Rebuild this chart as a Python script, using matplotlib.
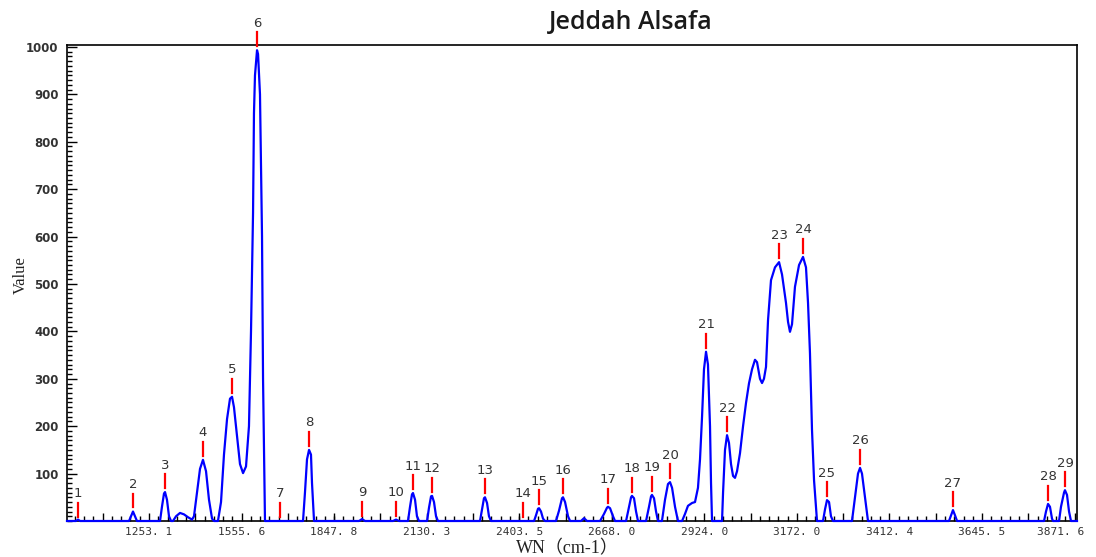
import numpy as np
import matplotlib.pyplot as plt
import matplotlib.transforms as mtransforms

LASER_NM = 532.0

# spectrum trace: scattered wavelength (nm) and intensity
wl_nm = [561.14,
         562.11, 562.33, 562.55,
         567.84, 568.06, 568.27, 568.49, 568.70,
         571.19, 571.40, 571.62, 571.73, 571.94, 572.16, 572.38,
         572.59, 572.92, 573.35, 573.78, 574.21, 574.65,
         574.86, 575.19, 575.51, 575.83, 576.16, 576.48, 576.81, 577.02,
         577.45, 577.78, 578.10, 578.43, 578.75, 578.97, 579.18, 579.51, 579.83,
         580.16, 580.48, 580.80, 581.02, 581.24, 581.34, 581.45, 581.67, 581.78,
         581.99, 582.21, 582.32, 582.53,
         586.64, 586.85, 587.07, 587.29, 587.50, 587.61, 587.83,
         592.69, 593.01, 593.34,
         596.36, 596.69, 597.01,
         597.98, 598.20, 598.41, 598.52, 598.74, 598.95, 599.17,
         600.04, 600.25, 600.47, 600.58, 600.79, 601.01, 601.22,
         605.76, 605.98, 606.19, 606.30, 606.52, 606.73, 606.95,
         611.60, 611.81, 612.03, 612.14, 612.35, 612.57, 612.78,
         613.97, 614.30, 614.62, 614.73, 614.95, 615.27, 615.49,
         616.67, 617.00, 617.32,
         618.73, 619.16, 619.48, 619.59, 619.81, 620.13, 620.35,
         621.54, 621.86, 622.08, 622.18, 622.40, 622.62, 622.83,
         623.70, 624.02, 624.24, 624.34, 624.56, 624.78, 624.99,
         625.42, 625.75, 626.07, 626.29, 626.51, 626.83, 627.15,
         627.59, 627.91, 628.23, 628.67, 628.99, 629.31, 629.53, 629.75, 629.96,
         630.18, 630.39, 630.61, 630.72, 630.83,
         631.91, 632.02, 632.23, 632.45, 632.66, 632.88, 633.10, 633.31, 633.53,
         633.85, 634.18, 634.50, 634.82, 635.15, 635.47, 635.69, 636.01, 636.23,
         636.44, 636.66, 636.88, 637.20, 637.63, 638.07, 638.39, 638.82, 639.04,
         639.25, 639.47, 639.79, 640.23, 640.66, 640.98, 641.20, 641.41, 641.63,
         641.85, 642.06, 642.17,
         642.82, 643.04, 643.25, 643.47, 643.68, 643.90,
         645.95, 646.28, 646.60, 646.82, 647.03, 647.36, 647.68,
         656.43, 656.65, 656.86, 657.08, 657.30,
         666.70, 666.91, 667.13, 667.34, 667.56, 667.67,
         668.32, 668.53, 668.86, 668.96, 669.18, 669.40, 669.61,
         670.26]
intensity = [0,
             0, 3, 0,
             0, 10, 20, 10, 0,
             0, 30, 58, 61, 45, 10, 0,
             0, 10, 17, 14, 8, 3,
             10, 60, 110, 129, 105, 45, 5, 0,
             0, 40, 140, 215, 258, 262, 240, 180, 120,
             101, 115, 200, 400, 650, 860, 940, 993, 985,
             900, 600, 300, 0,
             0, 60, 130, 150, 140, 80, 0,
             0, 4, 0,
             0, 3, 0,
             0, 30, 56, 59, 45, 10, 0,
             0, 28, 52, 53, 40, 10, 0,
             0, 25, 48, 50, 38, 10, 0,
             0, 12, 26, 27, 20, 5, 0,
             0, 22, 48, 50, 40, 10, 0,
             0, 6, 0,
             0, 15, 28, 30, 27, 10, 0,
             0, 30, 50, 53, 48, 20, 0,
             0, 30, 52, 55, 48, 20, 0,
             0, 45, 78, 82, 70, 30, 0,
             0, 15, 32, 38, 40, 70, 130, 220, 320,
             357, 330, 200, 80, 0,
             0, 60, 150, 181, 165, 120, 95, 91, 105,
             143, 200, 249, 290, 320, 340, 335, 300, 291,
             300, 325, 424, 508, 535, 546, 520, 460, 420,
             399, 415, 494, 540, 557, 535, 460, 354, 192,
             86, 30, 0,
             0, 25, 44, 40, 10, 0,
             0, 50, 100, 112, 100, 50, 0,
             0, 12, 23, 12, 0,
             0, 20, 36, 30, 5, 0,
             0, 30, 60, 65, 55, 20, 0,
             0]

# numbered peak markers
peak_no = list(range(1, 30))
peak_nm = [562.33, 568.27, 571.73, 575.83, 578.97, 581.67, 584.15, 587.29, 593.01,
           596.69, 598.52, 600.58, 606.30, 610.41, 612.14, 614.73, 619.59, 622.18,
           624.34, 626.29, 630.18, 632.45, 638.07, 640.66, 643.25, 646.82, 656.86,
           667.13, 668.96]
peak_val = [0, 20, 61, 129, 262, 993, 0, 150, 3, 3, 59, 53, 50, 0, 27, 50, 30, 53,
            55, 82, 357, 181, 546, 557, 44, 112, 23, 36, 65]

tick_labels = ["1253. 1", "1555. 6", "1847. 8", "2130. 3", "2403. 5", "2668. 0",
               "2924. 0", "3172. 0", "3412. 4", "3645. 5", "3871. 6"]


def nm_to_wn(nm):
    return 1e7 / LASER_NM - 1e7 / np.asarray(nm, dtype=float)


def wn_to_nm(wn):
    return 1e7 / (1e7 / LASER_NM - np.asarray(wn, dtype=float))


wn = nm_to_wn(wl_nm)
peak_wn = nm_to_wn(peak_nm)

fig = plt.figure(figsize=(10.96, 5.57), dpi=100)
ax = fig.add_axes([67 / 1096, 1 - 521 / 557, 1010 / 1096, 476 / 557])
ax.set_xscale('function', functions=(wn_to_nm, nm_to_wn))

ax.plot(wn, intensity, color='#0000ff', lw=1.6, clip_on=False, zorder=3)

for n, x, h in zip(peak_no, peak_wn, peak_val):
    ax.plot([x, x], [h + 8.5, h + 38], color='#ff0000', lw=1.6, clip_on=False, zorder=4)
    ax.text(x, h + 57, str(n), ha='center', va='center', fontsize=9.5,
            color='#333333', clip_on=False)

ax.set_xlim(nm_to_wn(561.14), nm_to_wn(670.26))
ax.set_ylim(0, 1004)

# major ticks every 5 nm, labels on the 10 nm ones
label_wn = [float(s.replace(' ', '')) for s in tick_labels]
mid_wn = nm_to_wn(np.arange(565, 671, 10))
major = np.concatenate([label_wn, mid_wn])
labels = tick_labels + [''] * len(mid_wn)
order = np.argsort(major)
ax.set_xticks(major[order], [labels[i] for i in order])
ax.set_xticks(nm_to_wn(np.arange(562, 671, 1)), minor=True)
ax.set_yticks(range(100, 1001, 100))
ax.set_yticks(range(0, 1001, 10), minor=True)

ax.tick_params(axis='both', which='major', direction='in', length=7, width=1)
ax.tick_params(axis='both', which='minor', direction='in', length=3.5, width=1)
ax.tick_params(axis='x', which='major', length=6, pad=4)
xlabs = ax.get_xticklabels()
for lab in xlabs:
    lab.set_family('DejaVu Sans Mono')
    lab.set_fontsize(8)
    lab.set_color('#333333')
# last label pushed left so it stays inside the figure
last = [lab for lab in xlabs if lab.get_text()][-1]
last.set_transform(last.get_transform() +
                   mtransforms.ScaledTranslation(-14 / 100, 0, fig.dpi_scale_trans))
for lab in ax.get_yticklabels():
    lab.set_fontsize(8.5)
    lab.set_fontweight('bold')
    lab.set_color('#333333')
ax.tick_params(axis='y', pad=6)

for s in ax.spines.values():
    s.set_linewidth(1.2)
    s.set_color('black')

fig.text(21 / 1096, 1 - 275 / 557, 'Value', rotation=90, ha='center', va='center',
         family='Liberation Serif', fontsize=12, color='#222222')
fig.text(567 / 1096, 1 - 549 / 557, 'WN（cm-1）', ha='center', va='center',
         family=['Liberation Serif', 'Noto Sans CJK SC'], fontsize=13, color='#222222')
fig.text(631 / 1096, 1 - 22 / 557, 'Jeddah Alsafa', ha='center', va='center',
         family='Open Sans', fontweight='semibold', fontsize=18, color='#1a1a1a')

fig.savefig('out.png', dpi=100)
